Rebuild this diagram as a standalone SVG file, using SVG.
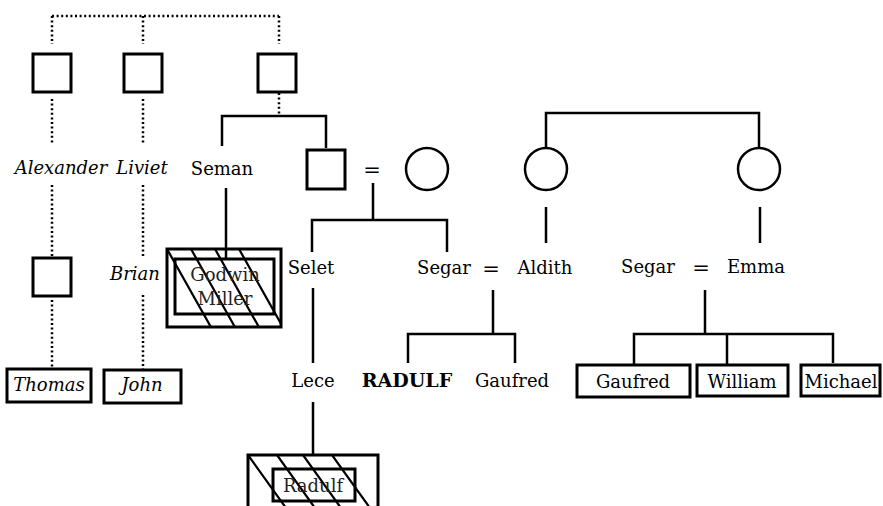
<svg xmlns="http://www.w3.org/2000/svg" width="883" height="506" viewBox="0 0 883 506">
<style>
.t{font-family:"DejaVu Serif","Liberation Serif",serif;font-size:18px;fill:#000;text-anchor:middle}
.i{font-style:italic}
.b{font-weight:bold;font-size:19px}
.g{fill:#222}
.eq{font-size:21px}
.ln{stroke:#000;stroke-width:2.5;fill:none}
.dot{stroke:#000;stroke-width:2.5;fill:none;stroke-dasharray:2 2.6}
.sq{stroke:#000;stroke-width:3;fill:#fff}
.ci{stroke:#000;stroke-width:2.5;fill:#fff}
.bx{stroke:#000;stroke-width:3;fill:none}
.h{stroke:#000;stroke-width:2.2}
</style>
<defs>
<clipPath id="cg"><rect x="167" y="249" width="114" height="78"/></clipPath>
<clipPath id="cr"><rect x="248" y="455" width="130" height="60"/></clipPath>
</defs>
<rect width="883" height="506" fill="#fff"/>
<g id="connectors">
<path class="dot" d="M52,16 H279 M52,16 V44 M143,16 V44 M279,16 V44"/>
<path class="dot" d="M52,99 V145 M52,185 V257 M52,300 V367"/>
<path class="dot" d="M143,99 V145 M143,185 V258 M143,295 V369"/>
<path class="dot" d="M279,93 V115"/>
<path class="ln" d="M222,146 V116 H326 V148"/>
<path class="ln" d="M226,188 V259"/>
<path class="ln" d="M373,183 V220 M312,252 V220 H447 V252"/>
<path class="ln" d="M313,288 V363 M313,402 V455"/>
<path class="ln" d="M493,290 V334 M408,363 V334 H515 V363"/>
<path class="ln" d="M546,147 V113 H759 V147"/>
<path class="ln" d="M546,207 V243 M760,207 V243"/>
<path class="ln" d="M705,290 V334 M634,365 V334 H833 V363 M727,334 V365"/>
</g>
<g id="sq1"><rect class="sq" x="33" y="54" width="38" height="38"/></g>
<g id="sq2"><rect class="sq" x="124" y="54" width="38" height="38"/></g>
<g id="sq3"><rect class="sq" x="258" y="54" width="38" height="38"/></g>
<g id="alexander"><text class="t i" x="61" y="174">Alexander</text></g>
<g id="liviet"><text class="t i" x="142" y="174">Liviet</text></g>
<g id="seman"><text class="t" x="222" y="175">Seman</text></g>
<g id="sq4"><rect class="sq" x="33" y="258" width="38" height="38"/></g>
<g id="brian"><text class="t i" x="135" y="280">Brian</text></g>
<g id="thomas"><rect class="bx" x="7" y="369" width="84" height="33"/><text class="t i" x="49" y="391">Thomas</text></g>
<g id="john"><rect class="bx" x="104" y="370" width="77" height="33"/><text class="t i" x="142" y="391">John</text></g>
<g id="godwin">
<g clip-path="url(#cg)"><path class="h" d="M167,249 l45,80 M191,249 l45,80 M215,249 l45,80 M239,249 l45,80"/></g>
<rect class="bx" x="167" y="249" width="114" height="78"/>
<rect class="bx" x="175" y="259" width="99" height="55"/>
<text class="t g" x="225" y="281">Godwin</text>
<text class="t g" x="225" y="305">Miller</text>
</g>
<g id="sq5"><rect class="sq" x="307" y="150" width="38" height="39"/></g>
<g id="eq1"><text class="t eq" x="372" y="177">=</text></g>
<g id="ci1"><circle class="ci" cx="427" cy="169" r="21"/></g>
<g id="ci2"><circle class="ci" cx="546" cy="169" r="21"/></g>
<g id="ci3"><circle class="ci" cx="759" cy="169" r="21"/></g>
<g id="selet"><text class="t" x="311" y="274">Selet</text></g>
<g id="segar1"><text class="t" x="444" y="274">Segar</text></g>
<g id="eq2"><text class="t eq" x="491" y="276">=</text></g>
<g id="aldith"><text class="t" x="545" y="274">Aldith</text></g>
<g id="segar2"><text class="t" x="648" y="273">Segar</text></g>
<g id="eq3"><text class="t eq" x="701" y="275">=</text></g>
<g id="emma"><text class="t" x="756" y="273">Emma</text></g>
<g id="lece"><text class="t" x="313" y="387">Lece</text></g>
<g id="radulf-main"><text class="t b" x="407" y="387">RADULF</text></g>
<g id="gaufred1"><text class="t" x="512" y="387">Gaufred</text></g>
<g id="gaufred2"><rect class="bx" x="577" y="365" width="113" height="32"/><text class="t" x="633" y="388">Gaufred</text></g>
<g id="william"><rect class="bx" x="697" y="365" width="91" height="31"/><text class="t" x="742" y="388">William</text></g>
<g id="michael"><rect class="bx" x="801" y="365" width="79" height="31"/><text class="t" x="841" y="388">Michael</text></g>
<g id="radulf">
<g clip-path="url(#cr)"><path class="h" d="M248,455 l43,60 M277,455 l43,60 M303,455 l43,60 M332,455 l43,60"/></g>
<rect class="bx" x="248" y="455" width="130" height="60"/>
<rect class="bx" x="273" y="469" width="82" height="32"/>
<text class="t g" x="313" y="492">Radulf</text>
</g>
</svg>
